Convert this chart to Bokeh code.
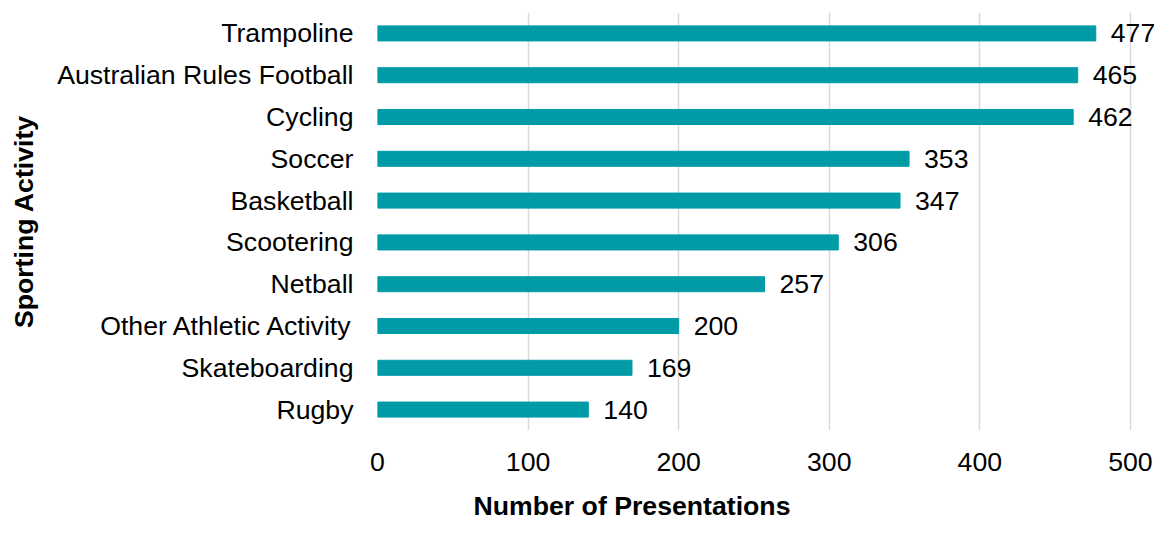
from bokeh.plotting import figure
from bokeh.models import ColumnDataSource, FactorRange, Range1d, FixedTicker, LabelSet, Title
from bokeh.core.properties import value
from bokeh.embed import file_html
from bokeh.resources import INLINE

activities = ["Trampoline", "Australian Rules Football", "Cycling", "Soccer", "Basketball",
              "Scootering", "Netball", "Other Athletic Activity", "Skateboarding", "Rugby"]
presentations = [477, 465, 462, 353, 347, 306, 257, 200, 169, 140]
x_ticks = [0, 100, 200, 300, 400, 500]

BAR = "#009BA7"
FONT = "Liberation Sans"
FS = "26.67px"

src = ColumnDataSource(dict(act=activities, val=presentations,
                            lab=[str(v) for v in presentations]))

p = figure(width=1162, height=536, output_backend="svg", toolbar_location=None,
           y_range=FactorRange(factors=list(reversed(activities))),
           x_range=Range1d(0, 516),
           min_border_left=377, min_border_right=8, min_border_top=12, min_border_bottom=100)

p.hbar(y="act", right="val", left=0, height=0.36, source=src, color=BAR)

labels = LabelSet(x="val", y="act", text="lab", source=src, x_offset=15, y_offset=0,
                  text_baseline="middle", text_align="left", text_font=value(FONT),
                  text_font_size=FS, text_color="#000000")
p.add_layout(labels)

p.outline_line_color = None
p.ygrid.grid_line_color = None
p.xgrid.ticker = FixedTicker(ticks=x_ticks)
p.xgrid.grid_line_color = "#D9D9D9"
p.xgrid.grid_line_width = 1.5

p.xaxis.ticker = FixedTicker(ticks=x_ticks)
for ax in (p.xaxis[0], p.yaxis[0]):
    ax.axis_line_color = None
    ax.major_tick_line_color = None
    ax.minor_tick_line_color = None
    ax.major_tick_out = 0
    ax.major_tick_in = 0
    ax.major_label_text_font = FONT
    ax.major_label_text_font_size = FS
    ax.major_label_text_color = "#000000"
    ax.axis_label_text_font = FONT
    ax.axis_label_text_font_size = FS
    ax.axis_label_text_font_style = "bold"
    ax.axis_label_text_color = "#000000"

p.yaxis.axis_label = "Sporting Activity"
p.xaxis.major_label_standoff = 22
p.yaxis.major_label_standoff = 24
p.yaxis.axis_label_standoff = 15

xtitle = Title(text="Number of Presentations", align="left", offset=96, standoff=31,
               text_font=FONT, text_font_size=FS, text_font_style="bold",
               text_color="#000000")
p.add_layout(xtitle, "below")

open("out.html", "w").write(file_html(p, INLINE))
